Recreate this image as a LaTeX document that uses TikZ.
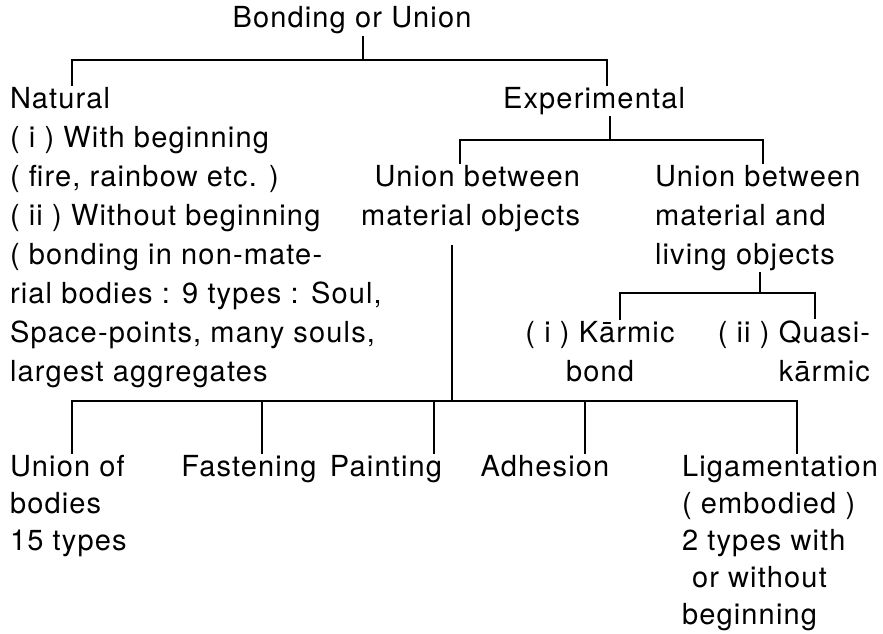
\documentclass[tikz,border=0pt]{standalone}
\usepackage{fontspec}
\setmainfont{TeX Gyre Heros}[LetterSpace=4]
\begin{document}
\begin{tikzpicture}[x=1pt,y=-1pt,
  txt/.style={inner sep=2pt,outer sep=0pt,font=\fontsize{29}{39}\selectfont},
  btxt/.style={inner sep=2pt,outer sep=0pt,font=\fontsize{29}{37}\selectfont},
  conn/.style={line width=1.5pt,line cap=rect}]
\path[use as bounding box] (0,0) rectangle (883,634);
% nodes (multi-line nodes are placed by the baseline of their last line)
\node[txt,anchor=base] (root) at (352,28) {Bonding or Union};
\node[txt,anchor=base west,align=left] (nat) at (8,381) {Natural\\( i ) With beginning\\( fire, rainbow etc. )\\( ii ) Without beginning\\( bonding in non-mate-\\rial bodies : 9 types : Soul,\\Space-points, many souls,\\largest aggregates};
\node[txt,anchor=base] (exp) at (594,108) {Experimental};
\node[txt,anchor=base east,align=right] (mat) at (582,225) {Union between\\material objects};
\node[txt,anchor=base west,align=left] (liv) at (653,264) {Union between\\material and\\living objects};
\node[txt,anchor=base,align=center] (kar) at (600,381) {( i ) Kārmic\\bond};
\node[txt,anchor=base east,align=right] (qua) at (872,381) {( ii ) Quasi-\\kārmic};
\node[btxt,anchor=base west,align=left] (uni) at (8,550) {Union of\\bodies\\15 types};
\node[btxt,anchor=base] (fas) at (249,476) {Fastening};
\node[btxt,anchor=base] (pai) at (386,476) {Painting};
\node[btxt,anchor=base] (adh) at (545,476) {Adhesion};
\node[btxt,anchor=base west,align=left] (lig) at (680,624) {Ligamentation\\( embodied )\\2 types with\\\hspace*{10pt}or without\\beginning};
% junction coordinates
\coordinate (j1) at (363,60);
\coordinate (j2) at (610,140);
\coordinate (j3) at (760,293);
\coordinate (j4) at (452,401);
% connectors
\draw[conn] (root.south -| j1) -- (j1);
\draw[conn] (nat.north -| 72,0) -- (72,60) -- (607,60) -- (exp.north -| 607,0);
\draw[conn] (exp.south -| j2) -- (j2);
\draw[conn] (mat.north -| 460,0) -- (460,140) -- (763,140) -- (liv.north -| 763,0);
\draw[conn] (liv.south -| j3) -- (j3);
\draw[conn] (kar.north -| 620,0) -- (620,293) -- (815,293) -- (qua.north -| 815,0);
\draw[conn] ([yshift=-12pt]mat.south -| j4) -- (j4);
\draw[conn] (72,401) -- (797,401);
\draw[conn] (uni.north -| 72,0) -- (72,401);
\draw[conn] (fas.north -| 262,0) -- (262,401);
\draw[conn] (pai.north -| 434,0) -- (434,401);
\draw[conn] (adh.north -| 585,0) -- (585,401);
\draw[conn] (lig.north -| 797,0) -- (797,401);
\end{tikzpicture}
\end{document}
